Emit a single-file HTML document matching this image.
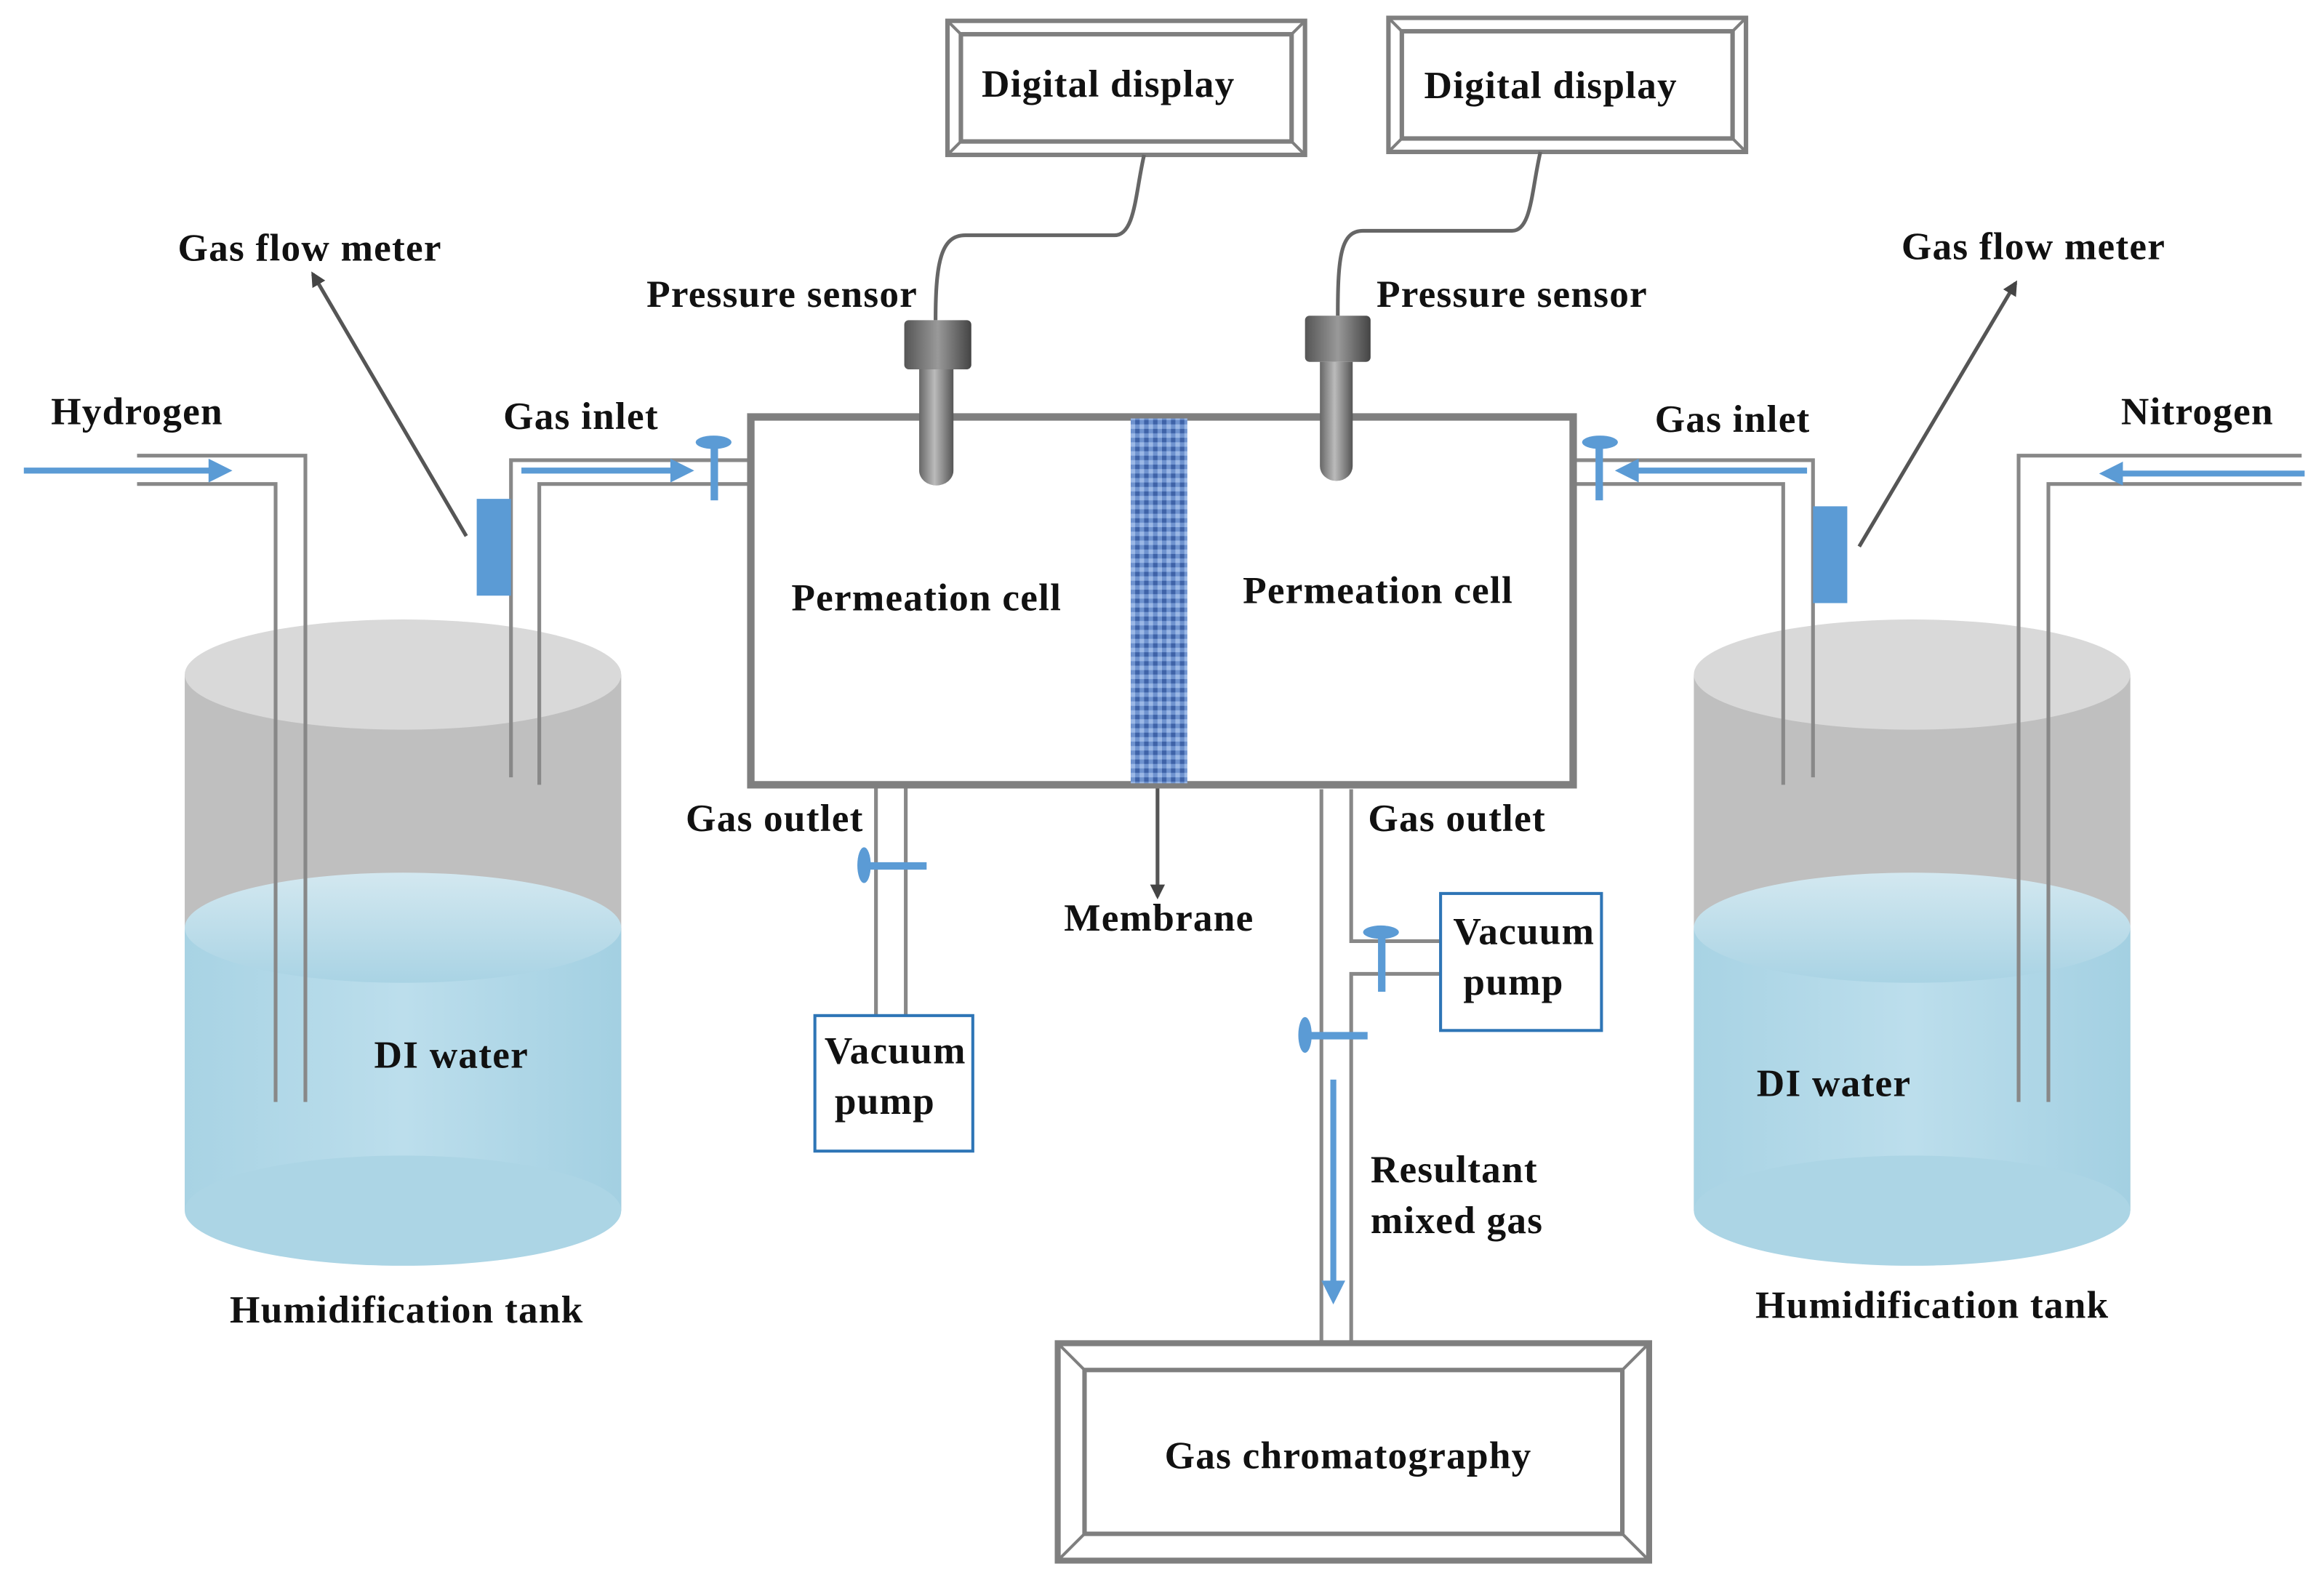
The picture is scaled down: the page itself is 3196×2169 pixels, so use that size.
<!DOCTYPE html>
<html><head><meta charset="utf-8"><style>
html,body{margin:0;padding:0;background:#fff;}
svg{display:block;}
text{font-family:"Liberation Serif",serif;font-weight:bold;font-size:26px;letter-spacing:0.6px;fill:#111;}
</style></head><body>
<svg width="3196" height="2169" viewBox="0 0 1560 1059" preserveAspectRatio="none" xmlns="http://www.w3.org/2000/svg">
<defs>
<linearGradient id="wat" x1="0" y1="0" x2="0" y2="1">
<stop offset="0" stop-color="#d3e8f0"/><stop offset="1" stop-color="#a9d3e4"/></linearGradient>
<linearGradient id="watside" x1="0" y1="0" x2="1" y2="0">
<stop offset="0" stop-color="#a8d3e4"/><stop offset="0.5" stop-color="#bcdeec"/><stop offset="1" stop-color="#a3d0e2"/></linearGradient>
<linearGradient id="probe" x1="0" y1="0" x2="1" y2="0">
<stop offset="0" stop-color="#666"/><stop offset="0.45" stop-color="#bbb"/><stop offset="1" stop-color="#555"/></linearGradient>
<linearGradient id="cap" x1="0" y1="0" x2="1" y2="0">
<stop offset="0" stop-color="#555"/><stop offset="0.5" stop-color="#999"/><stop offset="1" stop-color="#444"/></linearGradient>
<pattern id="mem" width="6" height="6" patternUnits="userSpaceOnUse">
<rect width="6" height="6" fill="#6f93cf"/><rect width="3" height="3" fill="#3f63a8"/><rect x="3" y="3" width="3" height="3" fill="#9bb8e6"/></pattern>
<marker id="ga" markerWidth="10" markerHeight="10" refX="8" refY="5" orient="auto" markerUnits="userSpaceOnUse"><path d="M0,0 L10,5 L0,10 z" fill="#444"/></marker>
</defs>

<g>
<rect x="124" y="453" width="293" height="360" fill="#bfbfbf"/>
<ellipse cx="270.5" cy="453" rx="146.5" ry="37" fill="#d9d9d9"/>
<rect x="124" y="623" width="293" height="190" fill="url(#watside)"/>
<ellipse cx="270.5" cy="813" rx="146.5" ry="37" fill="#acd5e5"/>
<ellipse cx="270.5" cy="623" rx="146.5" ry="37" fill="url(#wat)"/>
</g>
<g>
<rect x="1137" y="453" width="293" height="360" fill="#bfbfbf"/>
<ellipse cx="1283.5" cy="453" rx="146.5" ry="37" fill="#d9d9d9"/>
<rect x="1137" y="623" width="293" height="190" fill="url(#watside)"/>
<ellipse cx="1283.5" cy="813" rx="146.5" ry="37" fill="#acd5e5"/>
<ellipse cx="1283.5" cy="623" rx="146.5" ry="37" fill="url(#wat)"/>
</g>

<g fill="none" stroke="#888" stroke-width="2.5">
<polyline points="92,306 205,306 205,740"/>
<polyline points="92,325 185,325 185,740"/>
<polyline points="504,309 343,309 343,522"/>
<polyline points="504,325 362,325 362,527"/>
<polyline points="1056,309 1217,309 1217,522"/>
<polyline points="1056,325 1197,325 1197,527"/>
<polyline points="1545,306 1355,306 1355,740"/>
<polyline points="1545,325 1375,325 1375,740"/>
<line x1="588" y1="527" x2="588" y2="682"/>
<line x1="608" y1="527" x2="608" y2="682"/>
<line x1="887" y1="530" x2="887" y2="902"/>
<polyline points="907,530 907,632 967,632"/>
<polyline points="967,654 907,654 907,902"/>
</g>

<g stroke="#5b9bd5" stroke-width="4" fill="#5b9bd5">
<line x1="16" y1="316" x2="142" y2="316"/><path d="M140,308 L156,316 L140,324z" stroke="none"/>
<line x1="350" y1="316" x2="452" y2="316"/><path d="M450,308 L466,316 L450,324z" stroke="none"/>
<line x1="1213" y1="316" x2="1098" y2="316"/><path d="M1100,308 L1084,316 L1100,324z" stroke="none"/>
<line x1="1547" y1="318" x2="1423" y2="318"/><path d="M1425,310 L1409,318 L1425,326z" stroke="none"/>
<line x1="895" y1="725" x2="895" y2="862"/><path d="M887,860 L895,876 L903,860z" stroke="none"/>
</g>

<g fill="#5b9bd5">
<rect x="477" y="296" width="5" height="40"/><ellipse cx="479" cy="297" rx="12" ry="4.5"/>
<rect x="1071" y="296" width="5" height="40"/><ellipse cx="1074" cy="297" rx="12" ry="4.5"/>
<rect x="580" y="579" width="42" height="5"/><ellipse cx="580" cy="581" rx="4.5" ry="12"/>
<rect x="925" y="624" width="5" height="42"/><ellipse cx="927" cy="626" rx="12" ry="4.5"/>
<rect x="876" y="693" width="42" height="5"/><ellipse cx="876" cy="695" rx="4.5" ry="12"/>
<rect x="320" y="335" width="23" height="65"/>
<rect x="1217" y="340" width="23" height="65"/>
</g>

<g stroke="#555" stroke-width="2.5">
<line x1="313" y1="360" x2="210" y2="184" marker-end="url(#ga)"/>
<line x1="1248" y1="367" x2="1353" y2="190" marker-end="url(#ga)"/>
<line x1="777" y1="527" x2="777" y2="602" marker-end="url(#ga)"/>
</g>

<rect x="504" y="280" width="552" height="247" fill="#fff" stroke="#7f7f7f" stroke-width="5"/>
<rect x="759" y="281" width="38" height="245" fill="url(#mem)"/>

<g fill="#fff" stroke="#7f7f7f" stroke-width="3">
<rect x="636" y="14" width="240" height="90"/><rect x="645" y="23" width="222" height="72"/>
<rect x="932" y="12" width="240" height="90"/><rect x="941" y="21" width="222" height="72"/>
<rect x="710" y="902" width="397" height="146" stroke-width="4"/><rect x="728" y="920" width="361" height="110"/>
</g>
<g stroke="#7f7f7f" stroke-width="2">
<line x1="636" y1="14" x2="645" y2="23"/><line x1="876" y1="14" x2="867" y2="23"/><line x1="636" y1="104" x2="645" y2="95"/><line x1="876" y1="104" x2="867" y2="95"/>
<line x1="932" y1="12" x2="941" y2="21"/><line x1="1172" y1="12" x2="1163" y2="21"/><line x1="932" y1="102" x2="941" y2="93"/><line x1="1172" y1="102" x2="1163" y2="93"/>
<line x1="710" y1="902" x2="728" y2="920"/><line x1="1107" y1="902" x2="1089" y2="920"/><line x1="710" y1="1048" x2="728" y2="1030"/><line x1="1107" y1="1048" x2="1089" y2="1030"/>
</g>

<g fill="none" stroke="#666" stroke-width="2.5">
<path d="M768,104 C762,130 762,158 748,158 L648,158 C632,158 628,175 628,215"/>
<path d="M1034,102 C1028,128 1028,155 1015,155 L915,155 C900,155 898,172 898,212"/>
</g>

<rect x="607" y="215" width="45" height="33" rx="3" fill="url(#cap)"/>
<path d="M617,248 L640,248 L640,316 A11.5,10 0 0 1 617,316 Z" fill="url(#probe)"/>
<rect x="876" y="212" width="44" height="31" rx="3" fill="url(#cap)"/>
<path d="M886,243 L908,243 L908,313 A11,10 0 0 1 886,313 Z" fill="url(#probe)"/>

<rect x="547" y="682" width="106" height="91" fill="#fff" stroke="#2e75b6" stroke-width="2"/>
<rect x="967" y="600" width="108" height="92" fill="#fff" stroke="#2e75b6" stroke-width="2"/>

<g>
<text x="744" y="65" text-anchor="middle" font-size="24">Digital display</text>
<text x="1041" y="66" text-anchor="middle" font-size="24">Digital display</text>
<text x="208" y="175" text-anchor="middle">Gas flow meter</text>
<text x="1365" y="174" text-anchor="middle">Gas flow meter</text>
<text x="525" y="206" text-anchor="middle">Pressure sensor</text>
<text x="1015" y="206" text-anchor="middle">Pressure sensor</text>
<text x="92" y="285" text-anchor="middle">Hydrogen</text>
<text x="390" y="288" text-anchor="middle">Gas inlet</text>
<text x="1163" y="290" text-anchor="middle">Gas inlet</text>
<text x="1475" y="285" text-anchor="middle">Nitrogen</text>
<text x="622" y="410" text-anchor="middle">Permeation cell</text>
<text x="925" y="405" text-anchor="middle">Permeation cell</text>
<text x="520" y="558" text-anchor="middle">Gas outlet</text>
<text x="978" y="558" text-anchor="middle">Gas outlet</text>
<text x="778" y="625" text-anchor="middle">Membrane</text>
<text x="601" y="714" text-anchor="middle">Vacuum</text>
<text x="594" y="748" text-anchor="middle">pump</text>
<text x="1023" y="634" text-anchor="middle">Vacuum</text>
<text x="1016" y="668" text-anchor="middle">pump</text>
<text x="303" y="717" text-anchor="middle">DI water</text>
<text x="1231" y="736" text-anchor="middle">DI water</text>
<text x="920" y="794">Resultant</text>
<text x="920" y="828">mixed gas</text>
<text x="273" y="888" text-anchor="middle">Humidification tank</text>
<text x="1297" y="885" text-anchor="middle">Humidification tank</text>
<text x="905" y="986" text-anchor="middle">Gas chromatography</text>
</g>
</svg>
</body></html>
